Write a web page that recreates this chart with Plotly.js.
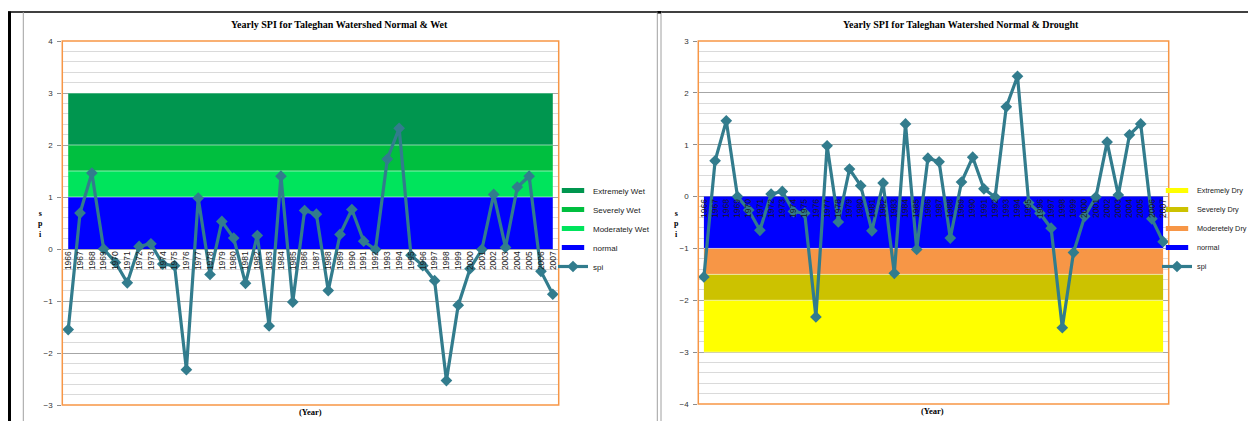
<!DOCTYPE html>
<html>
<head>
<meta charset="utf-8">
<script src="https://cdn.plot.ly/plotly-3.0.1.min.js"></script>
<style>
  html, body { margin: 0; padding: 0; background: #ffffff; overflow: hidden; }
  #chart { width: 1248px; height: 421px; }
</style>
</head>
<body>
<div id="chart"></div>
<script>
// Taleghan watershed yearly SPI, 1966-2007
const years = ['1966','1967','1968','1969','1970','1971','1972','1973','1974','1975',
  '1976','1977','1978','1979','1980','1981','1982','1983','1984','1985',
  '1986','1987','1988','1989','1990','1991','1992','1993','1994','1995',
  '1996','1997','1998','1999','2000','2001','2002','2003','2004','2005',
  '2006','2007'];

const spi = [-1.55, 0.69, 1.46, 0.00, -0.26, -0.65, 0.05, 0.10, -0.29, -0.32,
  -2.32, 0.98, -0.49, 0.53, 0.21, -0.66, 0.26, -1.48, 1.40, -1.02,
  0.74, 0.67, -0.80, 0.28, 0.76, 0.15, -0.01, 1.73, 2.32, -0.12,
  -0.32, -0.61, -2.53, -1.08, -0.38, -0.01, 1.05, 0.03, 1.19, 1.40,
  -0.43, -0.87];

// SPI class widths, stacked from zero outward
const wetClasses = ['normal', 'Moderately Wet', 'Severely Wet', 'Extremely Wet'];
const wetWidths = [1, 0.5, 0.5, 1];
const dryClasses = ['normal', 'Moderetely Dry', 'Severely Dry', 'Extremely Dry'];
const dryWidths = [-1, -0.5, -0.5, -1];

const wetColors = ['#0000ff', '#00e45c', '#00bf3f', '#00964f'];
const dryColors = ['#0000ff', '#f79646', '#ccc200', '#ffff00'];
const spiColor = '#327c8d';

const W = 1248, H = 421;
const px = v => v / W;
const py = v => 1 - v / H;

// stacked class bands
function bandTraces(names, widths, colors, xa, ya, group) {
  return names.map((name, i) => ({
    type: 'scatter',
    mode: 'lines',
    x: years,
    y: years.map(() => widths[i]),
    stackgroup: group,
    name: name,
    fillcolor: colors[i],
    line: { color: 'rgba(255,255,255,0.55)', width: 1 },
    xaxis: xa, yaxis: ya,
    showlegend: false,
    hoverinfo: 'skip'
  }));
}

// compact bar-shaped legend keys for the bands
function bandKeys(names, colors, xa, ya, legendName) {
  return names.map((name, i) => ({
    type: 'scatter',
    mode: 'markers',
    x: [null], y: [null],
    name: name,
    marker: { symbol: 'line-ew-open', size: 16, color: colors[i],
      line: { width: 5, color: colors[i] } },
    xaxis: xa, yaxis: ya,
    legend: legendName,
    legendrank: 4 - i
  }));
}

function spiTrace(xa, ya, legendName) {
  return {
    type: 'scatter',
    mode: 'lines+markers',
    x: years,
    y: spi,
    name: 'spi',
    line: { color: spiColor, width: 3.2 },
    marker: { symbol: 'diamond', size: 9, color: spiColor },
    xaxis: xa, yaxis: ya,
    legend: legendName,
    legendrank: 5
  };
}

const data = [
  ...bandTraces(wetClasses, wetWidths, wetColors, 'x', 'y', 'wet'),
  ...bandKeys(wetClasses, wetColors, 'x', 'y', 'legend'),
  spiTrace('x', 'y', 'legend'),
  ...bandTraces(dryClasses, dryWidths, dryColors, 'x2', 'y2', 'dry'),
  ...bandKeys(dryClasses, dryColors, 'x2', 'y2', 'legend2'),
  spiTrace('x2', 'y2', 'legend2')
];

const tickFont = { family: 'Liberation Sans, Arial, sans-serif', size: 8, color: '#333333' };
const yearFont = { family: 'Liberation Sans, Arial, sans-serif', size: 8.5, color: '#1a1a1a' };

function xAxis(domain, zeroPos) {
  return {
    domain: domain,
    anchor: 'free',
    position: zeroPos,
    type: 'category',
    range: [-0.5, 41.5],
    tickmode: 'linear', tick0: 0, dtick: 1,
    tickangle: -90,
    tickfont: yearFont,
    showgrid: false, showline: false, zeroline: false,
    ticks: '',
    fixedrange: true
  };
}

function yAxis(domain, range, anchor) {
  return {
    domain: domain,
    anchor: anchor,
    range: range,
    dtick: 1,
    tickfont: tickFont,
    ticks: 'outside', ticklen: 4, tickcolor: '#8c8c8c',
    ticklabelstandoff: 3,
    showgrid: true, gridcolor: '#a6a6a6', gridwidth: 1,
    minor: { dtick: 0.2, showgrid: true, gridcolor: '#dadada', gridwidth: 1 },
    zeroline: false, showline: false,
    fixedrange: true
  };
}

const serif = 'Liberation Serif, Times New Roman, serif';

function label(text, x, y, size) {
  return {
    text: text, xref: 'paper', yref: 'paper', x: px(x), y: py(y),
    xanchor: 'center', yanchor: 'middle', showarrow: false,
    font: { family: serif, size: size, color: '#000000', weight: 'bold' }
  };
}

function vline(x, y0, y1, color, width) {
  return { type: 'line', xref: 'paper', yref: 'paper', x0: px(x), x1: px(x), y0: py(y0), y1: py(y1),
    line: { color: color, width: width } };
}

function frame(xa, ya) {
  return { type: 'rect', xref: xa + ' domain', yref: ya + ' domain', x0: 0, x1: 1, y0: 0, y1: 1,
    line: { color: '#f79646', width: 1.5 }, layer: 'above' };
}

function legendBox(x, fontSize) {
  return {
    x: px(x), y: py(176), xanchor: 'left', yanchor: 'top',
    traceorder: 'normal', itemsizing: 'trace',
    font: { family: 'Liberation Sans, Arial, sans-serif', size: fontSize, color: '#1a1a1a' },
    bgcolor: 'rgba(0,0,0,0)', itemwidth: 30, tracegroupgap: 0
  };
}

const layout = {
  width: W, height: H,
  margin: { l: 0, r: 0, t: 0, b: 0, autoexpand: false },
  paper_bgcolor: '#ffffff',
  plot_bgcolor: 'rgba(0,0,0,0)',
  showlegend: true,
  hovermode: false,
  xaxis: xAxis([px(62.3), px(558.7)], py(248.5)),
  yaxis: yAxis([py(405), py(41)], [-3, 4], 'x'),
  xaxis2: xAxis([px(698.3), px(1168.7)], py(196.3)),
  yaxis2: yAxis([py(404), py(41)], [-4, 3], 'x2'),
  legend: legendBox(553, 8),
  legend2: legendBox(1157, 7.3),
  annotations: [
    label('Yearly SPI for Taleghan Watershed Normal &amp; Wet', 340, 24.5, 10),
    label('Yearly SPI for Taleghan Watershed Normal &amp; Drought', 960.5, 24.5, 10),
    label('(Year)', 310, 411.5, 8.5),
    label('(Year)', 932.5, 410.7, 8.5),
    label('s<br>p<br>i', 40, 223.5, 8),
    label('s<br>p<br>i', 676.7, 223.5, 8)
  ],
  shapes: [
    frame('x', 'y'),
    frame('x2', 'y2'),
    { type: 'line', xref: 'paper', yref: 'paper', x0: px(8), x1: 1, y0: py(12), y1: py(12),
      line: { color: '#000000', width: 1.5 } },
    vline(9.5, 11.5, 421, '#000000', 3),
    vline(23.3, 12, 421, '#a0a0a0', 1),
    vline(657.3, 12, 421, '#a0a0a0', 1),
    vline(661, 12, 421, '#a0a0a0', 1),
    { type: 'line', xref: 'paper', yref: 'paper', x0: px(657.5), x1: px(661), y0: py(12.3), y1: py(12.3),
      line: { color: '#000000', width: 2.5 } }
  ]
};

Plotly.newPlot('chart', data, layout, { displayModeBar: false, staticPlot: true });
</script>
</body>
</html>
